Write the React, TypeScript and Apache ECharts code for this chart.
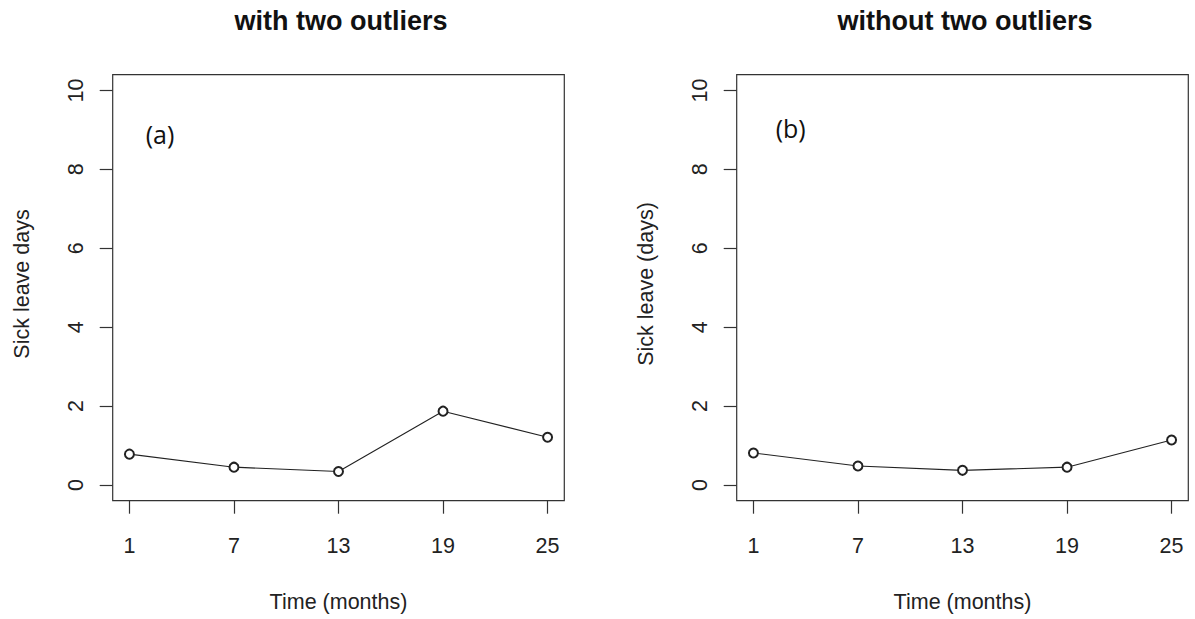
import React, { useEffect, useRef } from "react";
import * as echarts from "echarts";

const months = [1, 7, 13, 19, 25];
const withOutliers = [0.78, 0.45, 0.34, 1.87, 1.21];
const withoutOutliers = [0.81, 0.48, 0.37, 0.45, 1.14];
const yTicks = [0, 2, 4, 6, 8, 10];
const titles = ["with two outliers", "without two outliers"];
const yNames = ["Sick leave days", "Sick leave (days)"];
const xName = "Time (months)";
const panelTags = ["(a)", "(b)"];

const FONT = "'Liberation Sans', Arial, sans-serif";
const INK = "#222";

export default function App() {
  const ref = useRef<HTMLDivElement>(null);
  useEffect(() => {
    if (!ref.current) return;
    const chart = echarts.init(ref.current, null, { renderer: "svg" });
    const grids = [
      { left: 112.7, top: 74.7, width: 451.6, height: 426 },
      { left: 736.7, top: 74.7, width: 451.6, height: 426 },
    ];
    const seriesData = [withOutliers, withoutOutliers];
    const xAxis = grids.map((_, i) => ({
      type: "value",
      gridIndex: i,
      min: 0.04,
      max: 25.96,
      axisLine: { show: false, onZero: false },
      splitLine: { show: false },
      axisTick: { show: true, customValues: months, length: 13, lineStyle: { color: "#333", width: 1.2 } },
      axisLabel: { customValues: months, margin: 34, fontSize: 21.5, color: INK, fontFamily: FONT },
    }));
    const yAxis = grids.map((_, i) => ({
      type: "value",
      gridIndex: i,
      min: -0.4,
      max: 10.4,
      axisLine: { show: false, onZero: false },
      splitLine: { show: false },
      axisTick: { show: true, customValues: yTicks, length: 13, lineStyle: { color: "#333", width: 1.2 } },
      axisLabel: { customValues: yTicks, rotate: 90, margin: 26, fontSize: 21.5, color: INK, fontFamily: FONT },
    }));
    const series = seriesData.map((vals, i) => ({
      type: "line",
      xAxisIndex: i,
      yAxisIndex: i,
      data: months.map((m, j) => [m, vals[j]]),
      symbol: "emptyCircle",
      symbolSize: 9,
      lineStyle: { color: INK, width: 1.1 },
      itemStyle: { color: INK, borderWidth: 1 },
    }));
    const graphic: any[] = [];
    const titleX = [341, 965];
    const yNameX = [22, 646];
    const tagPos = [
      [160, 134],
      [790.7, 128],
    ];
    for (let i = 0; i < 2; i++) {
      graphic.push({
        type: "text",
        x: titleX[i],
        y: 21,
        style: { text: titles[i], font: `bold 27px ${FONT}`, fill: "#111", align: "center", verticalAlign: "middle" },
      });
      graphic.push({
        type: "text",
        x: grids[i].left + grids[i].width / 2,
        y: 602,
        style: { text: xName, font: `21.5px ${FONT}`, fill: INK, align: "center", verticalAlign: "middle" },
      });
      graphic.push({
        type: "text",
        x: yNameX[i],
        y: 284,
        rotation: Math.PI / 2,
        style: { text: yNames[i], font: `21.5px ${FONT}`, fill: INK, align: "center", verticalAlign: "middle" },
      });
      graphic.push({
        type: "text",
        x: tagPos[i][0],
        y: tagPos[i][1],
        style: { text: panelTags[i], font: `25px 'Open Sans', sans-serif`, fill: "#111", align: "center", verticalAlign: "middle" },
      });
    }
    chart.setOption({
      animation: false,
      backgroundColor: "#fff",
      grid: grids.map((g) => ({ ...g, show: true, borderColor: "#333", borderWidth: 1.2, backgroundColor: "transparent" })),
      xAxis,
      yAxis,
      series,
      graphic,
    } as any);
    return () => chart.dispose();
  }, []);
  return <div ref={ref} style={{ position: "absolute", left: 0, top: 0, width: 1195, height: 619 }} />;
}
